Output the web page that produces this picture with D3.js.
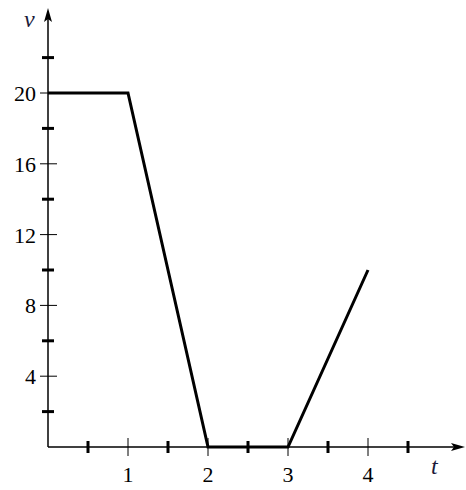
<!DOCTYPE html>
<html>
<head>
<meta charset="UTF-8">
<script src="https://d3js.org/d3.v7.min.js"></script>
<style>
  body { margin: 0; background: #fff; }
  text { font-family: "Liberation Serif", "DejaVu Serif", serif; }
</style>
</head>
<body>
<div id="chart"></div>
<script>
// data
const tVals = [0, 1, 2, 3, 4];
const vVals = [20, 20, 0, 0, 10];
const xMajor = [1, 2, 3, 4];
const xMinor = [0.5, 1.5, 2.5, 3.5, 4.5];
const yMajor = [4, 8, 12, 16, 20];
const yMinor = [2, 6, 10, 14, 18, 22];

const width = 466, height = 490;
const x = d3.scaleLinear().domain([0, 1]).range([48, 128]);
const y = d3.scaleLinear().domain([0, 20]).range([447, 93]);

const svg = d3.select("#chart").append("svg")
    .attr("width", width).attr("height", height);

// axes
svg.append("line").attr("x1", x(0)).attr("x2", 458)
    .attr("y1", y(0)).attr("y2", y(0)).attr("stroke", "#000").attr("stroke-width", 1.5);
svg.append("line").attr("x1", x(0)).attr("x2", x(0))
    .attr("y1", y(0)).attr("y2", 16).attr("stroke", "#000").attr("stroke-width", 1.5);
svg.append("path").attr("d", `M465,${y(0)} L451,${y(0) - 4} L454,${y(0)} L451,${y(0) + 4} Z`);
svg.append("path").attr("d", `M${x(0)},8 L${x(0) - 4},22 L${x(0)},19 L${x(0) + 4},22 Z`);

// x ticks
svg.selectAll(".xmaj").data(xMajor).enter().append("line")
    .attr("x1", d => x(d)).attr("x2", d => x(d))
    .attr("y1", y(0) - 9).attr("y2", y(0) + 9)
    .attr("stroke", "#000").attr("stroke-width", 1);
svg.selectAll(".xmin").data(xMinor).enter().append("line")
    .attr("x1", d => x(d)).attr("x2", d => x(d))
    .attr("y1", y(0) - 6).attr("y2", y(0) + 6)
    .attr("stroke", "#000").attr("stroke-width", 3);
svg.selectAll(".xlab").data(xMajor).enter().append("text")
    .attr("x", d => x(d)).attr("y", 482)
    .attr("text-anchor", "middle").attr("font-size", 22).text(d => d);

// y ticks
svg.selectAll(".ymaj").data(yMajor).enter().append("line")
    .attr("x1", x(0) - 8).attr("x2", x(0) + 9)
    .attr("y1", d => y(d)).attr("y2", d => y(d))
    .attr("stroke", "#000").attr("stroke-width", 1);
svg.selectAll(".ymin").data(yMinor).enter().append("line")
    .attr("x1", x(0) - 6).attr("x2", x(0) + 6)
    .attr("y1", d => y(d)).attr("y2", d => y(d))
    .attr("stroke", "#000").attr("stroke-width", 3);
svg.selectAll(".ylab").data(yMajor).enter().append("text")
    .attr("x", 36).attr("y", d => y(d) + 8)
    .attr("text-anchor", "end").attr("font-size", 22).text(d => d);

// axis labels
svg.append("text").attr("x", 24).attr("y", 27).attr("font-size", 24)
    .attr("font-style", "italic").attr("fill", "#1a1a3a").text("v");
svg.append("text").attr("x", 431).attr("y", 474).attr("font-size", 24)
    .attr("font-style", "italic").attr("fill", "#1a1a3a").text("t");

// data line
const line = d3.line().x((d, i) => x(tVals[i])).y(d => y(d));
svg.append("path").datum(vVals).attr("d", line)
    .attr("fill", "none").attr("stroke", "#000").attr("stroke-width", 3)
    .attr("stroke-linejoin", "miter");
</script>
</body>
</html>
